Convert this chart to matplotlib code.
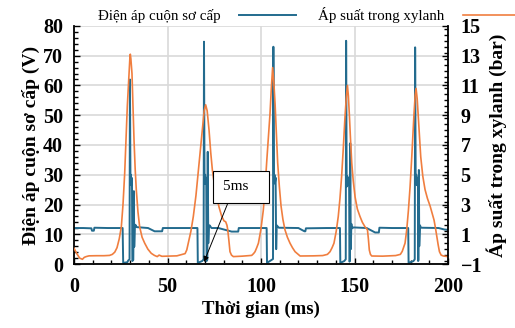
import matplotlib
matplotlib.use("Agg")
import matplotlib.pyplot as plt
from matplotlib.ticker import MultipleLocator

plt.rcParams["font.family"] = ["Liberation Serif", "DejaVu Serif"]

# ── Data ──
# primary coil voltage (V), time in ms
coil_t = [0, 5, 9.3, 9.6, 10.6, 10.9, 18, 26.0,
          26.3, 28.5, 29.0, 29.7, 29.9, 30.2, 30.4, 30.6, 30.8, 31.0, 31.2, 31.7, 32.0, 32.2,
          32.5, 32.8, 33.5, 39.6, 43.1, 47.1, 47.5, 60, 66.0,
          66.2, 68.5, 69.3, 69.5, 69.8, 70.1, 70.4, 70.7, 70.9, 71.3, 71.5, 71.8, 72.1,
          72.5, 73.5, 77.2, 84.3, 87.8, 88.1, 100, 103.0,
          103.2, 105.7, 106.4, 106.6, 106.9, 107.2, 107.5, 107.8, 108.1, 108.4, 109.5,
          120, 123.2, 123.7, 124.0, 135, 142.2,
          142.4, 144.5, 145.3, 145.5, 145.8, 146.1, 146.5, 146.8, 147.1, 147.3, 147.5,
          147.7, 148.0, 148.3, 148.6, 149.5, 156.5, 161, 163.0, 163.3, 170, 178.7,
          178.9, 181.5, 182.2, 182.4, 182.7, 183.0, 183.3, 183.6, 183.9, 184.0, 184.2,
          184.4, 184.6, 185.0, 185.5, 195, 198, 200]
coil_v = [12.1, 12.1, 12.0, 11.2, 11.2, 12.2, 12.1, 12.1,
          0.4, 0.6, 1.2, 1.6, 62.0, 27.0, 30.0, 26.5, 29.0, 27.5, 1.0, 1.4, 24.5, 5.8,
          12.0, 13.2, 12.4, 12.1, 11.0, 11.0, 12.1, 12.1, 12.1,
          0.4, 1.0, 1.6, 74.7, 27.0, 30.0, 27.0, 29.0, 1.0, 1.5, 37.7, 7.0, 12.5,
          13.0, 12.1, 12.1, 10.9, 10.9, 12.1, 12.1, 12.1,
          0.4, 1.4, 1.7, 73.0, 27.0, 30.0, 27.5, 29.0, 5.0, 13.0, 12.2,
          12.1, 11.0, 11.0, 12.0, 12.1, 12.1,
          0.4, 1.0, 1.6, 75.0, 26.0, 29.5, 26.5, 29.0, 27.0, 0.8, 1.2,
          40.6, 5.0, 13.5, 12.0, 12.3, 12.1, 10.6, 10.6, 12.2, 12.1, 12.1,
          0.4, 1.0, 1.6, 72.8, 27.0, 30.0, 26.5, 29.0, 27.0, 1.0, 1.4,
          31.6, 6.0, 13.0, 12.2, 12.1, 11.6, 11.5]

# cylinder pressure (bar), time in ms
press_t = [0, 1.5, 3, 4.5, 5.5, 6.5, 8, 12, 16, 19, 20.5, 21.8, 23.0, 24.2, 25.3, 26.2,
           27.1, 27.8, 28.5, 29.4, 29.9, 30.1, 30.4, 31.0, 31.5, 32.1, 32.7, 33.3, 34.2,
           35.1, 36.4, 37.8, 39.5, 41.3, 43, 44.5, 45.5, 47, 55,
           59.4, 60.3, 61.1, 62.5, 63.8, 65.2, 66.5, 67.6, 68.6, 69.6, 70.4, 71.2, 72.2,
           73.1, 74.0, 75.1, 76.3, 77.6, 79.0, 80.2, 81.1, 81.8, 82.2, 82.8, 83.4, 84.2,
           85.2, 90, 95,
           96.0, 96.8, 97.7, 98.6, 99.9, 101.2, 102.1, 103.0, 103.9, 104.8, 105.5, 106.2,
           106.8, 107.5, 108.2, 108.9, 109.8, 110.7, 111.7, 112.8, 114.1, 115.5, 116.8,
           118.2, 120.9, 128, 133,
           135.5, 136.9, 138, 139.0, 140.2, 141.3, 142.2, 143.1, 144.0, 144.9, 145.6,
           146.2, 146.7, 147.2, 147.8, 148.5, 149.3, 150.3, 151.5, 152.9, 154.2, 155.6,
           156.9, 157.4, 157.9, 158.5, 159.2, 165, 172,
           174.5, 175.5, 176.2, 177.0, 177.9, 178.8, 179.7, 180.6, 181.2, 181.8, 182.4,
           182.9, 183.5, 184.1, 184.8, 185.4, 186.5, 187.7, 189.0, 190.4, 191.5, 192.5,
           193.3, 194.0, 194.7, 195.4, 196.3, 197.5, 200]
press_bar = [0.06, -0.3, -0.6, -0.68, -0.55, -0.5, -0.45, -0.44, -0.44, -0.42, -0.35, -0.2,
             0.1, 0.7, 1.5, 3.0, 5.1, 7.3, 9.6, 11.8, 12.9, 13.1, 12.8, 11.8, 9.8, 7.3, 5.4,
             4.0, 2.5, 1.5, 0.8, 0.4, 0.0, -0.28, -0.42, -0.5, -0.4, -0.48, -0.45,
             -0.3, -0.05, 0.4, 1.2, 2.2, 3.6, 5.3, 6.8, 8.0, 9.3, 9.7, 9.3, 8.0,
             6.5, 5.3, 4.3, 3.5, 2.8, 2.2, 1.9, 1.84, 1.6, 1.3, 0.6, -0.17, -0.4,
             -0.5, -0.47, -0.42,
             -0.3, -0.17, 0.1, 0.4, 1.3, 2.6, 4.0, 5.8, 7.4, 9.1, 10.8, 12.2,
             11.3, 9.8, 7.8, 5.8, 4.2, 2.9, 2.0, 1.3, 0.8, 0.4, 0.1,
             -0.17, -0.46, -0.45, -0.43,
             -0.35, -0.17, 0.1, 0.4, 1.2, 2.2, 3.4, 4.9, 6.8, 8.9, 10.2,
             11.0, 10.3, 9.1, 7.5, 5.8, 4.6, 3.5, 2.7, 2.2, 1.8, 1.5,
             1.3, 0.7, -0.06, -0.35, -0.46, -0.47, -0.43,
             -0.35, -0.15, 0.1, 0.4, 1.3, 2.6, 4.2, 6.2, 7.7, 9.1, 10.3,
             10.8, 10.1, 8.9, 7.5, 6.2, 4.9, 4.0, 3.4, 2.9, 2.4, 1.96,
             1.4, 0.84, 0.3, -0.17, -0.4, -0.46, -0.5]

press_ticks = [-1, 1, 3, 5, 7, 9, 11, 13, 15]

BLUE = "#236b8e"
ORANGE = "#f07e3f"

fig = plt.figure(figsize=(5.15, 3.28), dpi=100)
ax = fig.add_axes([0.1437, 0.195, 0.7263, 0.726])
ax2 = ax.twinx()

l1, = ax.plot(coil_t, coil_v, color=BLUE, lw=1.4, label="Điện áp cuộn sơ cấp")
l2, = ax2.plot(press_t, press_bar, color=ORANGE, lw=1.2, label="Áp suất trong xylanh")

ax.set_xlim(0, 200)
ax.set_ylim(0, 80)
ax2.set_ylim(-1, 15)

ax.xaxis.set_major_locator(MultipleLocator(50))
ax.xaxis.set_minor_locator(MultipleLocator(10))
ax.yaxis.set_major_locator(MultipleLocator(10))
ax.yaxis.set_minor_locator(MultipleLocator(2))
ax2.set_yticks(press_ticks)
ax2.yaxis.set_minor_locator(MultipleLocator(0.4))

ax.grid(True, which="major", color="#d9d9d9", lw=1.2)
ax.set_axisbelow(True)

for a in (ax, ax2):
    a.spines["top"].set_visible(False)
    for s in ("left", "right", "bottom"):
        a.spines[s].set_linewidth(1.3)
    a.tick_params(which="both", direction="in", width=1.0)
    a.tick_params(which="major", length=4)
    a.tick_params(which="minor", length=3)
ax.spines["right"].set_visible(False)
ax2.spines["left"].set_visible(False)
ax2.spines["bottom"].set_visible(False)
ax.tick_params(axis="x", which="major", pad=9)
ax.tick_params(axis="y", pad=8)
ax2.tick_params(axis="y", pad=9)

FS = 14.5
for lab in ax.get_xticklabels() + ax.get_yticklabels() + ax2.get_yticklabels():
    lab.set_fontsize(FS)
    lab.set_fontweight("bold")

ax.set_xlabel("Thời gian (ms)", fontsize=13.5, fontweight="bold", labelpad=3)
ax.set_ylabel("Điện áp cuộn sơ cấp (V)", fontsize=14, fontweight="bold", labelpad=2)
ax2.set_ylabel("Áp suất trong xylanh (bar)", fontsize=14, fontweight="bold", labelpad=3)

fig.legend(handles=[l1, l2], loc="center", bbox_to_anchor=(0.6, 0.955), ncol=2,
           frameon=False, markerfirst=False, handlelength=3.8, columnspacing=1.5,
           handletextpad=1.2, fontsize=10.8)

ax2.annotate("5ms   ", xy=(69.5, -0.86), xytext=(89.3, 4.18), fontsize=11,
             ha="center", va="center",
             bbox=dict(boxstyle="square,pad=0.6", fc="white", ec="black", lw=0.8),
             arrowprops=dict(arrowstyle="-|>", color="black", lw=0.7,
                             relpos=(0.25, 0), shrinkA=0, shrinkB=0, mutation_scale=8))

fig.savefig("out.png", dpi=100)
